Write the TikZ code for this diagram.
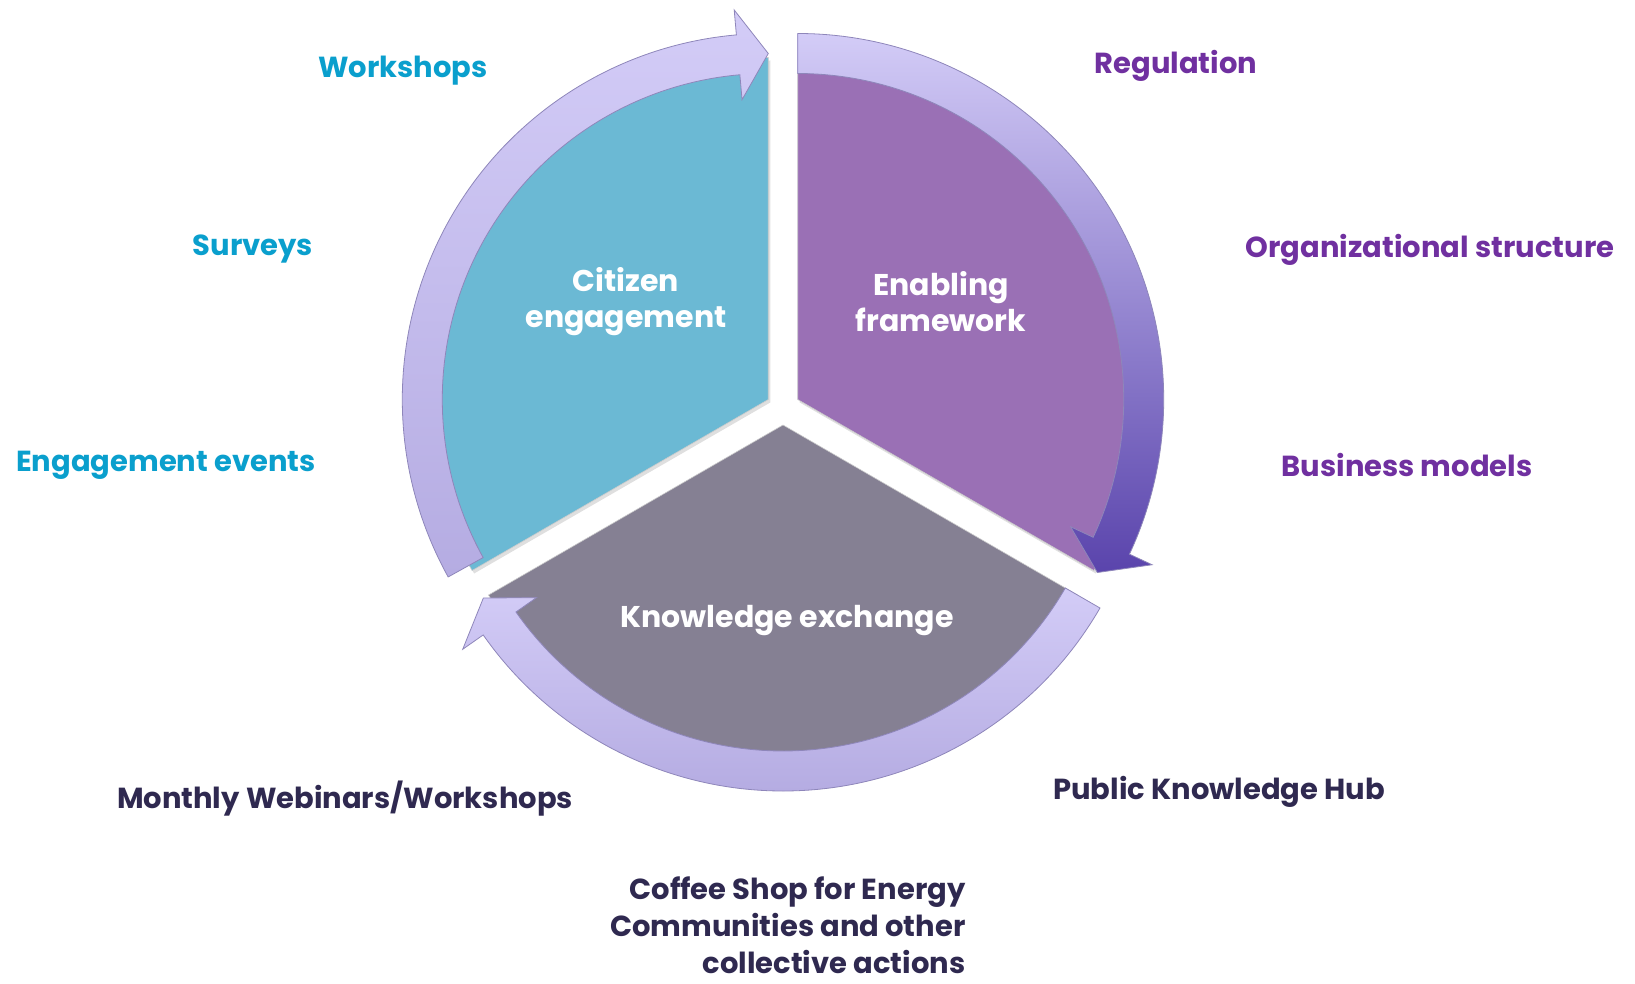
\documentclass[tikz,border=0pt]{standalone}
\usepackage{fontspec}
\setmainfont{Poppins}
\usetikzlibrary{calc,shadows}
\definecolor{tealF}{HTML}{6BB9D4}
\definecolor{purpF}{HTML}{9A70B5}
\definecolor{grayF}{HTML}{858093}
\definecolor{bandL}{HTML}{D3CCF7}
\definecolor{bandM}{HTML}{B5ACE2}
\definecolor{bandMid}{HTML}{B2A8E8}
\definecolor{bandD}{HTML}{5A44AC}
\definecolor{bandE}{HTML}{8E86BA}
\definecolor{cyanT}{HTML}{0A9FCD}
\definecolor{purpT}{HTML}{7030A0}
\definecolor{navyT}{HTML}{2F2950}
\begin{document}
\begin{tikzpicture}[x=1pt,y=1pt,
  sector/.style={draw=black!20, line width=0.6pt,
    drop shadow={shadow xshift=2pt, shadow yshift=-3pt, opacity=0.25}},
  band/.style={draw=bandE, line width=0.8pt},
  inlabel/.style={text=white, font=\bfseries\fontsize{30}{36}\selectfont, align=center},
  cyanlabel/.style={text=cyanT, font=\bfseries\fontsize{29}{36}\selectfont},
  purplabel/.style={text=purpT, font=\bfseries\fontsize{29}{36}\selectfont},
  navylabel/.style={text=navyT, font=\bfseries\fontsize{29}{37}\selectfont}
]
\useasboundingbox (0,0) rectangle (1635,-984);
\coordinate (C) at (783,-408);
\coordinate (A1) at ($(C)+(150:17)$);
\coordinate (A2) at ($(C)+(30:17)$);
\coordinate (A3) at ($(C)+(270:17)$);

% sectors
\path[sector, fill=tealF] (A1) -- ($(A1)+(90:342)$) arc[start angle=90, end angle=210, radius=342] -- cycle;
\path[sector, fill=purpF] (A2) -- ($(A2)+(90:342)$) arc[start angle=90, end angle=-30, radius=342] -- cycle;
\path[sector, fill=grayF] (A3) -- ($(A3)+(210:340)$) arc[start angle=210, end angle=330, radius=340] -- cycle;

% circular arrows
\path[band, top color=bandL, bottom color=bandM]
  ($(A1)+(209:326)$) -- ($(A1)+(209:366)$) arc[start angle=209, end angle=95, radius=366]
  -- ($(A1)+(95:391)$) -- ($(A1)+(90:346)$) -- ($(A1)+(95:301)$) -- ($(A1)+(95:326)$)
  arc[start angle=95, end angle=209, radius=326] -- cycle;
\path[band, top color=bandL, middle color=bandMid, bottom color=bandD]
  ($(A2)+(90:326)$) -- ($(A2)+(90:366)$) arc[start angle=90, end angle=-25, radius=366]
  -- ($(A2)+(-25:391)$) -- ($(A2)+(-30:346)$) -- ($(A2)+(-25:301)$) -- ($(A2)+(-25:326)$)
  arc[start angle=-25, end angle=90, radius=326] -- cycle;
\path[band, top color=bandL, bottom color=bandM]
  ($(A3)+(-30:326)$) -- ($(A3)+(-30:366)$) arc[start angle=-30, end angle=-145, radius=366]
  -- ($(A3)+(-145:391)$) -- ($(A3)+(-150:346)$) -- ($(A3)+(-145:301)$) -- ($(A3)+(-145:326)$)
  arc[start angle=-145, end angle=-30, radius=326] -- cycle;

% inner labels
\node[inlabel] (cit) at (626,-302) {Citizen\\engagement};
\node[inlabel] (ena) at (941,-302) {Enabling\\framework};
\node[inlabel] (kno) at (787,-621) {Knowledge exchange};

% outer labels
\node[cyanlabel] (ws) at (403,-71) {Workshops};
\node[cyanlabel] (sv) at (253,-249) {Surveys};
\node[cyanlabel] (ev) at (166,-465) {Engagement events};
\node[purplabel] (rg) at (1176,-66) {Regulation};
\node[purplabel] (os) at (1430,-250) {Organizational structure};
\node[purplabel] (bm) at (1407,-465) {Business models};
\node[navylabel] (mw) at (345,-799) {Monthly Webinars/Workshops};
\node[navylabel] (kh) at (1219,-792) {Public Knowledge Hub};
\node[navylabel, align=right, anchor=east] (cs) at (969,-925) {Coffee Shop for Energy\\Communities and other\\collective actions};
\end{tikzpicture}
\end{document}
